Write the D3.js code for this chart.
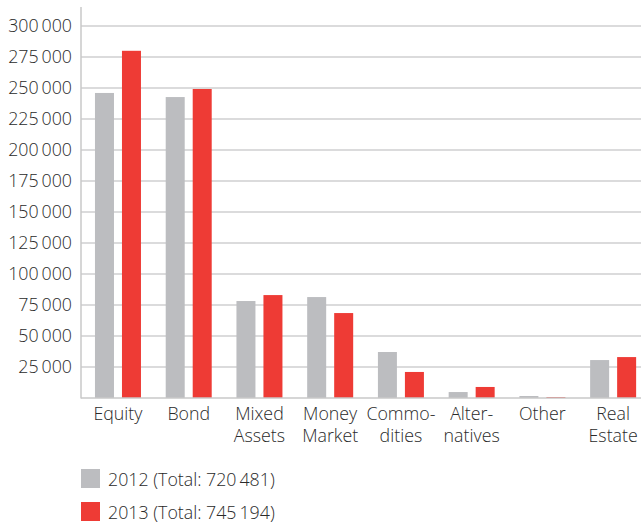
<!DOCTYPE html>
<html><head><meta charset="utf-8">
<script src="https://cdn.jsdelivr.net/npm/d3@7"></script>
<style>
html,body{margin:0;padding:0;background:#fff;}
text{font-family:"Open Sans","Noto Sans",sans-serif;fill:#2a2a2a;font-weight:350;}
</style></head>
<body>
<svg id="chart" width="641" height="524"></svg>
<script>
const categories = [["Equity"],["Bond"],["Mixed","Assets"],["Money","Market"],["Commo-","dities"],["Alter-","natives"],["Other"],["Real","Estate"]];
const series = ["2012","2013"];
const values2012 = [246000, 242700, 78200, 81400, 37100, 4800, 1600, 30600];
const values2013 = [280000, 249200, 83000, 68500, 21000, 8900, 800, 33000];
const legendLabels = ["2012 (Total: 720\u2009481)", "2013 (Total: 745\u2009194)"];
const yTicks = [25000,50000,75000,100000,125000,150000,175000,200000,225000,250000,275000,300000];
const colors = ["#bcbdc0", "#ee3b35"];

(function(){
const svg = d3.select("#chart");
const mLeft = 81, mRight = 648.5, mTop = 26, mBottom = 398;
const x = d3.scaleBand().domain(d3.range(categories.length)).range([82.6, mRight]).padding(0);
const y = d3.scaleLinear().domain([0, 300000]).range([mBottom, mTop]);
const fmt = d3.formatLocale({decimal:".", thousands:"\u2009", grouping:[3], currency:["",""]}).format(",d");
const fs = 17.8;

svg.append("g").selectAll("line").data(yTicks).join("line")
  .attr("x1", mLeft).attr("x2", 641)
  .attr("y1", d => y(d)).attr("y2", d => y(d))
  .attr("stroke", "#cfcfd0").attr("stroke-width", 1.5);

svg.append("g").selectAll("text").data(yTicks).join("text")
  .attr("x", 72).attr("y", d => y(d)).attr("dy", "0.35em")
  .attr("text-anchor", "end").attr("font-size", fs)
  .text(d => fmt(d));

const bw = 19, gap = 4;
const data = categories.map((c, i) => [values2012[i], values2013[i]]);
const g = svg.append("g");
data.forEach((vals, i) => {
  const cx = x(i) + x.bandwidth() / 2;
  vals.forEach((v, s) => {
    g.append("rect")
      .attr("x", s === 0 ? cx - gap - bw : cx + gap)
      .attr("y", y(v)).attr("width", bw).attr("height", y(0) - y(v))
      .attr("fill", colors[s]);
  });
});

svg.append("line").attr("x1", mLeft).attr("x2", mLeft).attr("y1", 7).attr("y2", mBottom + 0.5)
  .attr("stroke", "#c8c8c9").attr("stroke-width", 1.5);
svg.append("line").attr("x1", mLeft).attr("x2", 641).attr("y1", mBottom).attr("y2", mBottom)
  .attr("stroke", "#c8c8c9").attr("stroke-width", 1.5);

categories.forEach((lines, i) => {
  const cx = x(i) + x.bandwidth() / 2;
  const t = svg.append("text").attr("text-anchor", "middle").attr("font-size", fs);
  lines.forEach((l, k) => {
    t.append("tspan").attr("x", cx).attr("y", 420 + k * 22).text(l);
  });
});

legendLabels.forEach((l, i) => {
  const ly = 469 + i * 33;
  svg.append("rect").attr("x", 81).attr("y", ly).attr("width", 19).attr("height", 19).attr("fill", colors[i]);
  svg.append("text").attr("x", 108).attr("y", ly + 17).attr("font-size", fs).text(l);
});
})();
</script>
</body></html>
